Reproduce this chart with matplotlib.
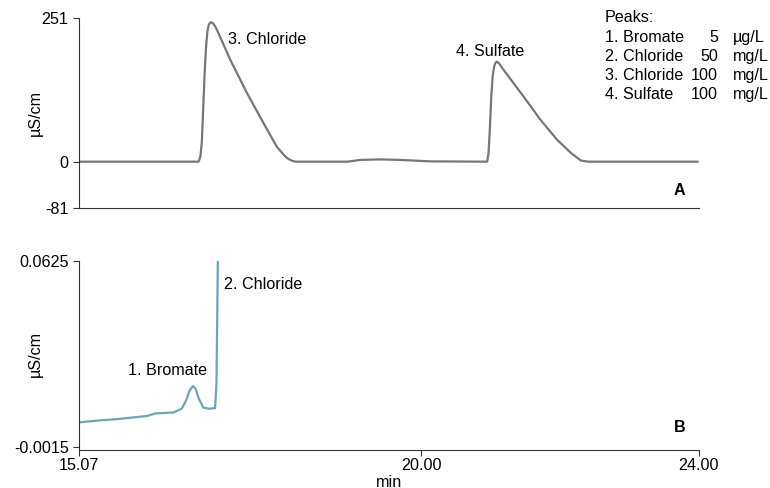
import numpy as np
import matplotlib
matplotlib.use("Agg")
import matplotlib.pyplot as plt

plt.rcParams['font.family'] = ['Liberation Sans', 'DejaVu Sans']
plt.rcParams['font.size'] = 11.6

# run A: 100 mg/L chloride + 100 mg/L sulfate (full scale)
time_a = [15.07, 16.79, 16.80, 16.82, 16.84, 16.86, 16.88, 16.90, 16.92, 16.94,
          16.97, 17.00, 17.03, 17.06, 17.25, 17.49, 17.73, 17.92, 18.02, 18.07,
          18.13, 18.19, 18.94, 19.12, 19.41, 19.70, 20.14, 20.95, 20.97, 20.99,
          21.01, 21.03, 21.05, 21.07, 21.09, 21.12, 21.19, 21.48, 21.72, 21.96,
          22.16, 22.30, 22.40, 23.98]
cond_a = [0, 0, 2, 10, 35, 95, 155, 200, 228, 240,
          244, 242, 237, 230, 178, 120, 67, 26, 12, 6,
          2, 0, 0, 3, 4, 3, 0.5, 0, 15, 60,
          115, 150, 166, 173, 175, 172, 160, 113, 73, 38,
          15, 2, 0, 0]

# run B: bromate region, zoomed
time_b = [15.07, 15.37, 15.61, 16.05, 16.17, 16.43, 16.55, 16.62, 16.66,
          16.71, 16.75, 16.79, 16.86, 16.94, 17.03, 17.05, 17.06, 17.07]
cond_b = [0.0070, 0.0077, 0.0081, 0.0092, 0.0101, 0.0104, 0.0117, 0.0149, 0.0178,
          0.0195, 0.0186, 0.0155, 0.0121, 0.0117, 0.0119, 0.0200, 0.0400, 0.0625]

peak_names = ['1. Bromate', '2. Chloride', '3. Chloride', '4. Sulfate']
peak_conc = ['5', '50', '100', '100']
peak_units = ['µg/L', 'mg/L', 'mg/L', 'mg/L']

fig = plt.figure(figsize=(7.7, 4.88), dpi=100)
ax1 = fig.add_axes([0.1026, 0.5738, 0.805, 0.389])
ax2 = fig.add_axes([0.1026, 0.0779, 0.805, 0.387])

for ax in (ax1, ax2):
    ax.spines['top'].set_visible(False)
    ax.spines['right'].set_visible(False)
    ax.spines['left'].set_color('#333333')
    ax.spines['bottom'].set_color('#333333')
    ax.tick_params(direction='out', length=4, width=0.8, color='#333333')
    ax.set_xlim(15.07, 24.0)

# top trace
ax1.plot(time_a, cond_a, color='#777777', lw=1.6, solid_joinstyle='round')
ax1.set_ylim(-81, 251)
ax1.set_yticks([-81, 0, 251])
ax1.set_yticklabels(['-81', '0', '251'])
ax1.set_xticks([])
ax1.set_ylabel('µS/cm')
ax1.yaxis.set_label_coords(-0.058, 0.5)
ax1.text(17.22, 213, '3. Chloride', ha='left', va='center')
ax1.text(20.99, 192, '4. Sulfate', ha='center', va='center')
ax1.text(23.72, -50, 'A', ha='center', va='center', fontweight='bold')

# peak table in the top right corner
fig.text(605 / 770, 1 - 18 / 488, 'Peaks:', ha='left', va='center')
for i in range(len(peak_names)):
    yy = 1 - (37.5 + 19 * i) / 488
    fig.text(605 / 770, yy, peak_names[i], ha='left', va='center')
    fig.text(718 / 770, yy, peak_conc[i], ha='right', va='center')
    fig.text(733 / 770, yy, peak_units[i], ha='left', va='center')

# bottom trace
ax2.plot(time_b, cond_b, color='#6fa4b4', lw=1.6, solid_joinstyle='round')
ax2.set_ylim(-0.0025, 0.0625)
ax2.set_yticks([-0.0015, 0.0625])
ax2.set_yticklabels(['-0.0015', '0.0625'])
ax2.set_xticks([15.07, 20.0, 24.0])
ax2.set_xticklabels(['15.07', '20.00', '24.00'])
ax2.tick_params(axis='x', pad=2)
ax2.set_ylabel('µS/cm')
ax2.yaxis.set_label_coords(-0.058, 0.51)
ax2.set_xlabel('min', labelpad=1)
ax2.text(17.16, 0.0546, '2. Chloride', ha='left', va='center')
ax2.text(16.34, 0.0247, '1. Bromate', ha='center', va='center')
ax2.text(23.72, 0.0051, 'B', ha='center', va='center', fontweight='bold')

fig.savefig('out.png', dpi=100)
